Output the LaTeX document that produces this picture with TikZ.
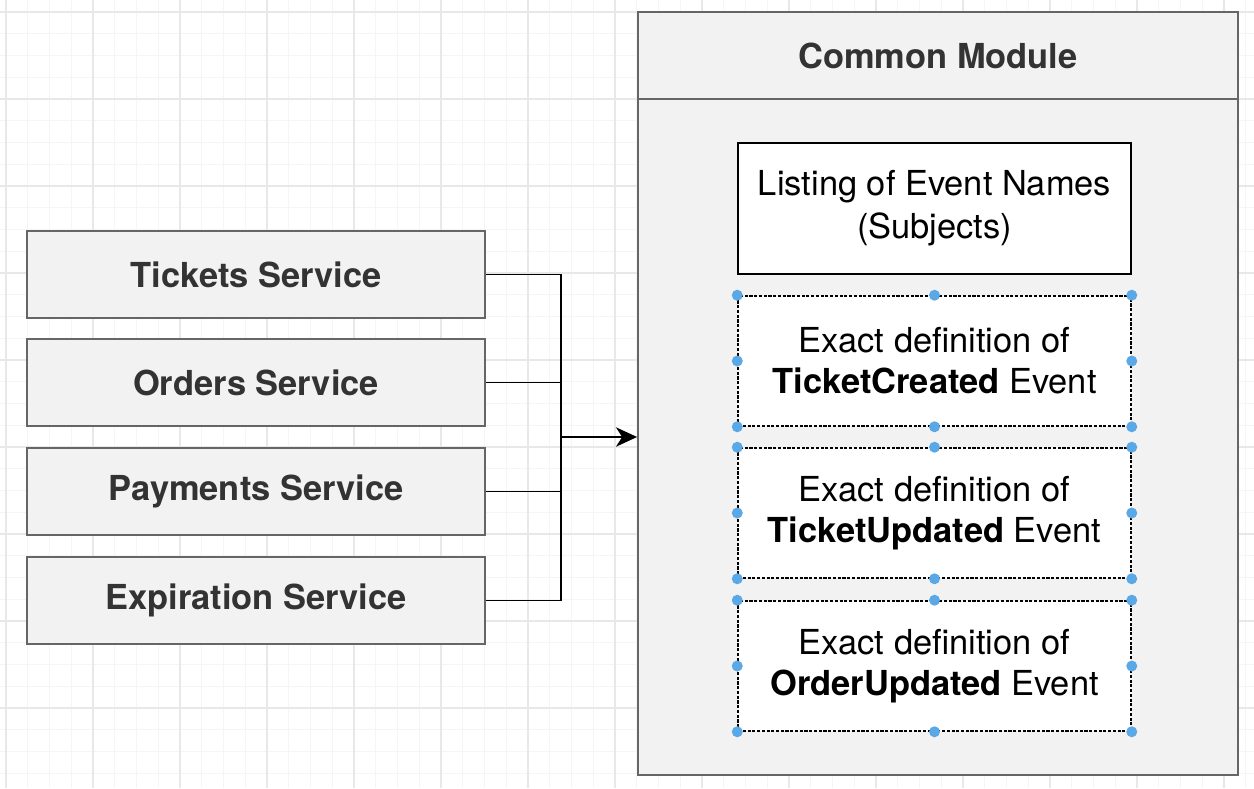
\documentclass[tikz,border=0pt]{standalone}
\usepackage{fontspec}
\setmainfont{TeX Gyre Heros}
\usepackage{xcolor}
\usetikzlibrary{arrows.meta}
\definecolor{boxgray}{RGB}{242,242,242}
\definecolor{edgegray}{RGB}{102,102,102}
\definecolor{titlegray}{RGB}{51,51,51}
\definecolor{handleblue}{RGB}{90,169,230}
\definecolor{minorline}{RGB}{245,245,245}
\definecolor{majorline}{RGB}{232,232,232}

\tikzset{
  svcbox/.style={draw=edgegray, fill=boxgray, line width=1.1pt, minimum width=9.16cm,
    minimum height=1.74cm, font=\fontsize{19.6}{23.2}\selectfont\bfseries, text=titlegray},
  defbox/.style={draw=black, fill=white, line width=0.9pt, minimum width=7.86cm,
    align=center, font=\fontsize{19.6}{23.2}\selectfont},
  handle/.style={fill=handleblue, draw=none}
}

\begin{document}
\begin{tikzpicture}[x=0.02cm, y=-0.02cm]
  \useasboundingbox (0,0) rectangle (1254,788);
  \fill[white] (0,0) rectangle (1254,788);
  %The background grid:
  \foreach \i in {0,...,57}{
    \draw[minorline, line width=0.5pt] ({6+\i*21.75},0) -- ++(0,788);
  }
  \foreach \i in {0,...,36}{
    \draw[minorline, line width=0.5pt] (0,{12+\i*21.75}) -- ++(1254,0);
  }
  \foreach \i in {0,...,14}{
    \draw[majorline, line width=0.6pt] ({6+\i*87},0) -- ++(0,788);
  }
  \foreach \i in {0,...,9}{
    \draw[majorline, line width=0.6pt] (0,{12+\i*87}) -- ++(1254,0);
  }

  %The four services:
  \node[svcbox] (tickets) at (256,274.5) {Tickets Service};
  \node[svcbox] (orders) at (256,382.5) {Orders Service};
  \node[svcbox] (payments) at (256,491.5) {Payments Service};
  \node[svcbox] (expiration) at (256,600.5) {Expiration Service};

  %The common module with its header:
  \node[svcbox, minimum width=12cm] (header) at (938,55.5) {Common Module};
  \node[draw=edgegray, fill=boxgray, line width=1.1pt, minimum width=12cm,
    minimum height=13.52cm] (module) at (938,437) {};

  %The connectors:
  \coordinate (join) at (561,437);
  \draw[line width=1.1pt] (tickets.east) -| (join);
  \draw[line width=1.1pt] (orders.east) -| (join);
  \draw[line width=1.1pt] (payments.east) -| (join);
  \draw[line width=1.1pt] (expiration.east) -| (join);
  \draw[line width=1.1pt, -{Stealth[length=12pt, width=11pt, inset=3.5pt]}] (join) -- (module.west);

  %The boxes inside the module:
  \node[defbox, line width=1.1pt, minimum height=2.62cm, font=\fontsize{19.6}{24.4}\selectfont]
    (listing) at (934.5,208.5) {Listing of Event Names\\(Subjects)};
  \node[defbox, dash pattern=on 1.8pt off 0.9pt, minimum height=2.6cm] (created) at (934.5,361)
    {Exact definition of\\\textbf{TicketCreated} Event};
  \node[defbox, dash pattern=on 1.8pt off 0.9pt, minimum height=2.6cm] (updated) at (934.5,513)
    {Exact definition of\\\textbf{TicketUpdated} Event};
  \node[defbox, dash pattern=on 1.8pt off 0.9pt, minimum height=2.6cm] (orderupd) at (934.5,666)
    {Exact definition of\\\textbf{OrderUpdated} Event};

  %The selection handles:
  \foreach \b in {created,updated,orderupd}{
    \foreach \a in {north west,north,north east,east,south east,south,south west,west}{
      \fill[handle] (\b.\a) circle (0.11cm);
    }
  }
\end{tikzpicture}
\end{document}
